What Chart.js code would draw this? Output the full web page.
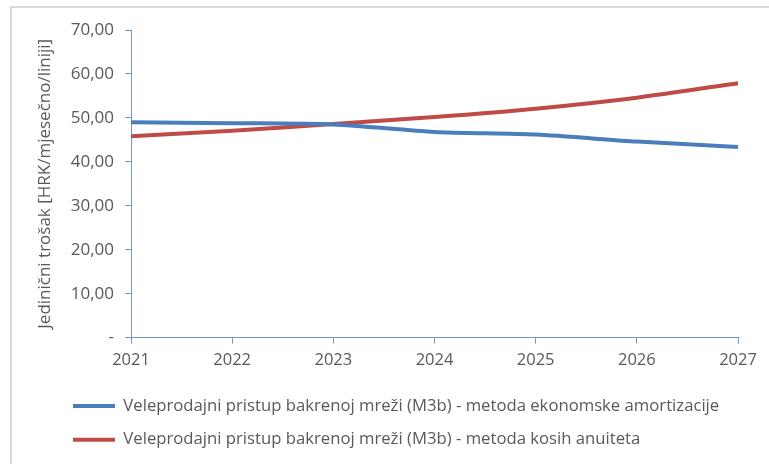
<!DOCTYPE html>
<html>
<head>
<meta charset="utf-8">
<script src="https://cdn.jsdelivr.net/npm/chart.js@4/dist/chart.umd.min.js"></script>
<style>
  body { margin: 0; background: #fff; }
  #wrap { position: relative; width: 769px; height: 464px; }
  #frame { position: absolute; left: 10px; top: 6px; right: 0; bottom: 0;
           border-top: 2px solid #d9d9d9; border-left: 2px solid #d9d9d9; }
  canvas { position: absolute; left: 0; top: 0; }
</style>
</head>
<body>
<div id="wrap">
  <div id="frame"></div>
  <canvas id="myChart" width="769" height="464"></canvas>
</div>
<script>
var godine = ['2021', '2022', '2023', '2024', '2025', '2026', '2027'];
var ekonomskaAmortizacija = [49.0, 48.8, 48.5, 46.8, 46.2, 44.6, 43.4];
var kosiAnuiteti = [45.8, 47.1, 48.6, 50.2, 52.1, 54.6, 57.9];
var yOznake = ['-', '10,00', '20,00', '30,00', '40,00', '50,00', '60,00', '70,00'];

var nazivPlava = 'Veleprodajni pristup bakrenoj mreži (M3b) - metoda ekonomske amortizacije';
var nazivCrvena = 'Veleprodajni pristup bakrenoj mreži (M3b) - metoda kosih anuiteta';

var bojaOsi = '#7096cc';
var bojaTeksta = '#595959';
var font = '"Open Sans", "Noto Sans", sans-serif';

// legenda je u originalu pomaknuta udesno
var pomakLegende = {
  id: 'pomakLegende',
  afterLayout: function(chart) {
    chart.legend.left = 56;
  }
};

function desenhaChart() {
  var ctx = document.getElementById('myChart').getContext('2d');
  new Chart(ctx, {
    type: 'line',
    data: {
      labels: godine,
      datasets: [{
        label: nazivPlava,
        data: ekonomskaAmortizacija,
        borderColor: '#4a7ebb',
        backgroundColor: '#4a7ebb',
        borderWidth: 4,
        pointRadius: 0,
        tension: 0.25
      }, {
        label: nazivCrvena,
        data: kosiAnuiteti,
        borderColor: '#be4b48',
        backgroundColor: '#be4b48',
        borderWidth: 4,
        pointRadius: 0,
        tension: 0.25
      }]
    },
    options: {
      responsive: false,
      animation: false,
      layout: { padding: { left: 12, right: 31, top: 30, bottom: 6 } },
      plugins: {
        tooltip: { enabled: false },
        legend: {
          position: 'bottom',
          align: 'start',
          labels: {
            boxWidth: 42,
            boxHeight: 4,
            padding: 17,
            color: bojaTeksta,
            font: { family: font, size: 16.7 },
            generateLabels: function(chart) {
              return Chart.defaults.plugins.legend.labels.generateLabels(chart).map(function(l) {
                l.lineWidth = 0;
                l.fillStyle = l.strokeStyle;
                return l;
              });
            }
          }
        }
      },
      scales: {
        x: {
          offset: false,
          afterFit: function(s) { s.height = 43; },
          grid: { drawOnChartArea: false, drawTicks: true, tickLength: 6, color: bojaOsi },
          border: { color: bojaOsi, width: 1 },
          ticks: { color: bojaTeksta, padding: 7, font: { family: font, size: 16.5 } }
        },
        y: {
          min: 0,
          max: 70,
          afterFit: function(s) { s.width = 119; },
          grid: { drawOnChartArea: false, drawTicks: true, tickLength: 6, color: bojaOsi },
          border: { color: bojaOsi, width: 1 },
          ticks: {
            stepSize: 10,
            padding: 11,
            color: bojaTeksta,
            font: { family: font, size: 17 },
            callback: function(v, i) { return yOznake[i]; }
          },
          title: {
            display: true,
            text: 'Jedinični trošak [HRK/mjesečno/liniji]',
            color: bojaTeksta,
            font: { family: font, size: 17 },
            padding: { top: 23, bottom: 0 }
          }
        }
      }
    },
    plugins: [pomakLegende]
  });
}

desenhaChart();
</script>
</body>
</html>
